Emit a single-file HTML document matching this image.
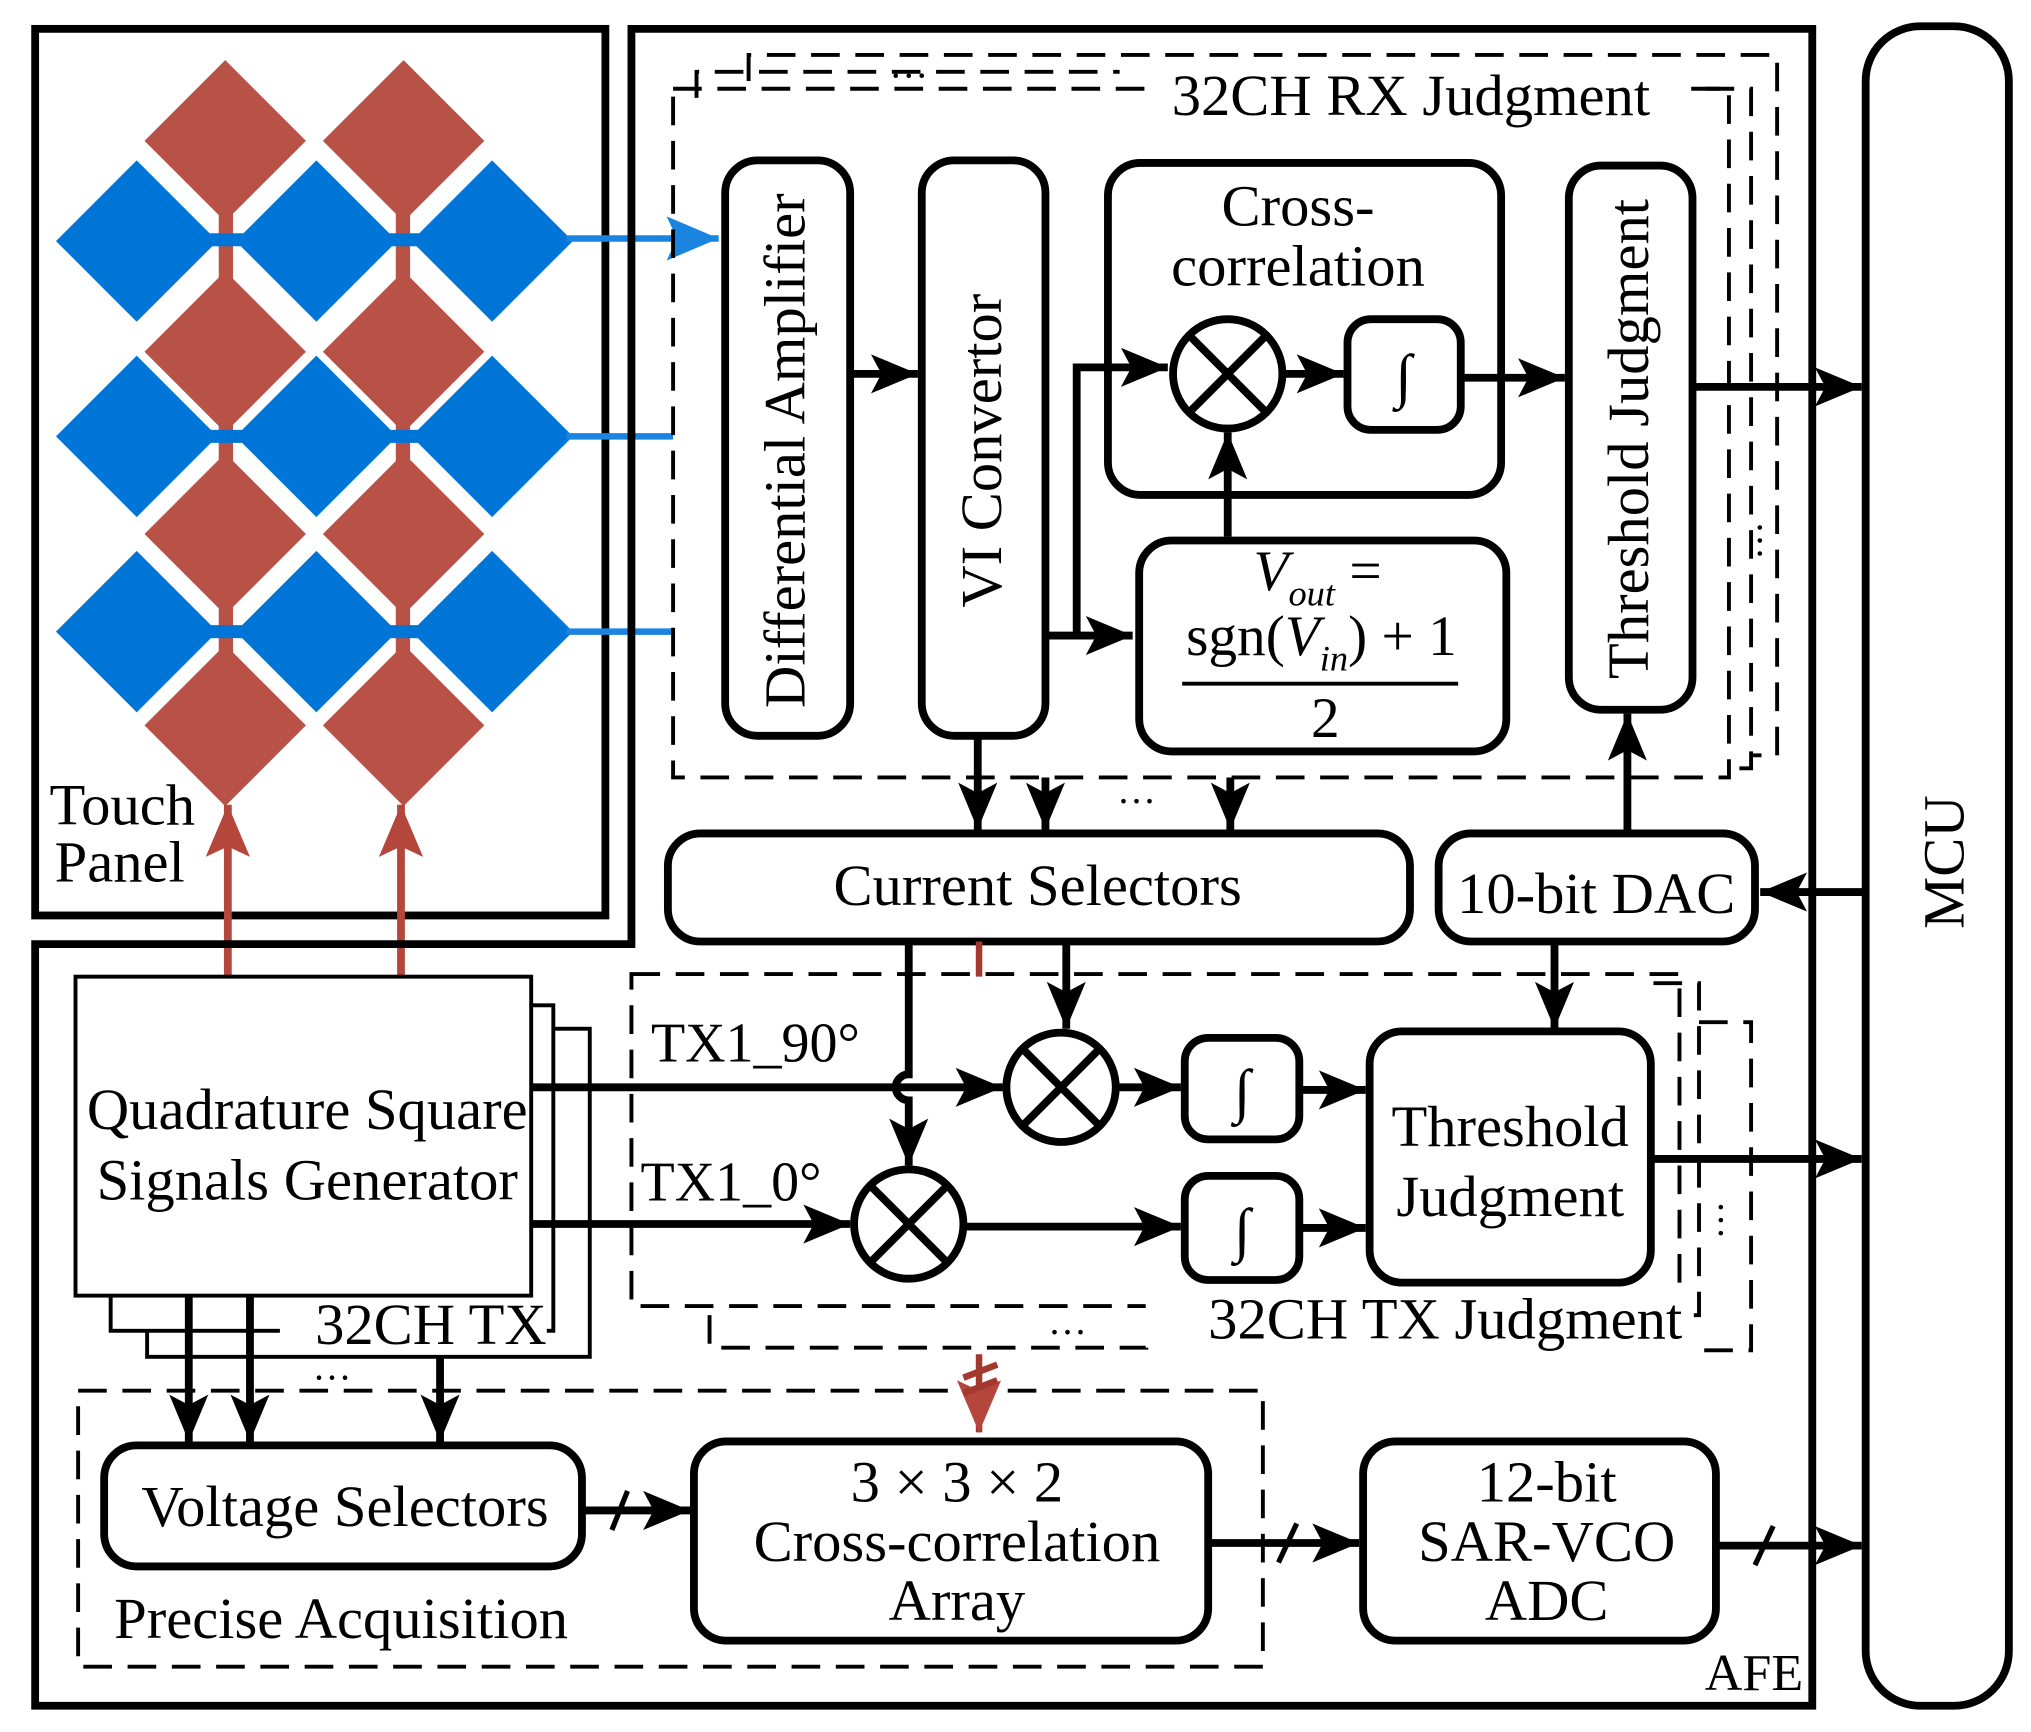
<!DOCTYPE html>
<html><head><meta charset="utf-8"><style>html,body{margin:0;padding:0;background:#fff}svg{display:block}text{font-family:"Liberation Serif",serif;fill:#000}</style></head><body>
<svg width="2031" height="1732" viewBox="0 0 1560 1330" xmlns="http://www.w3.org/2000/svg">
<defs>
<marker id="ak" markerWidth="36" markerHeight="30" refX="36" refY="15" orient="auto" markerUnits="userSpaceOnUse"><path d="M0,0 L36,15 L0,30 L8,15 z" fill="#000"/></marker>
<marker id="ab" markerWidth="40" markerHeight="34" refX="40" refY="17" orient="auto" markerUnits="userSpaceOnUse"><path d="M0,0 L40,17 L0,34 L8,17 z" fill="#1a84e0"/></marker>
<marker id="ar" markerWidth="40" markerHeight="34" refX="40" refY="17" orient="auto" markerUnits="userSpaceOnUse"><path d="M0,0 L40,17 L0,34 L8,17 z" fill="#b5463c"/></marker>
<g id="d"><path d="M0,-62 L62,0 L0,62 L-62,0z"/></g>
</defs>
<rect width="1560" height="1330" fill="#fff"/>
<rect x="27" y="22" width="438" height="681" fill="none" stroke="#000" stroke-width="6"/>
<g fill="#b85246">
<rect x="168" y="100" width="11" height="470"/><rect x="304" y="100" width="11" height="470"/>
<use href="#d" x="173" y="108"/><use href="#d" x="310" y="108"/>
<use href="#d" x="173" y="270"/><use href="#d" x="310" y="270"/>
<use href="#d" x="173" y="410"/><use href="#d" x="310" y="410"/>
<use href="#d" x="173" y="557"/><use href="#d" x="310" y="557"/>
</g>
<g fill="#0075d8">
<rect x="105" y="179" width="280" height="10"/><rect x="105" y="330" width="280" height="10"/><rect x="105" y="480" width="280" height="10"/>
<use href="#d" x="105" y="185"/><use href="#d" x="243" y="185"/><use href="#d" x="378" y="185"/>
<use href="#d" x="105" y="335"/><use href="#d" x="243" y="335"/><use href="#d" x="378" y="335"/>
<use href="#d" x="105" y="485"/><use href="#d" x="243" y="485"/><use href="#d" x="378" y="485"/>
</g>
<g stroke="#1a84e0" stroke-width="5" fill="none">
<line x1="435" y1="183" x2="552" y2="183" marker-end="url(#ab)"/>
<line x1="435" y1="335" x2="517" y2="335"/><line x1="435" y1="485" x2="517" y2="485"/>
</g>
<g stroke="#b5463c" stroke-width="6"><line x1="175" y1="750" x2="175" y2="618" marker-end="url(#ar)"/><line x1="308" y1="750" x2="308" y2="618" marker-end="url(#ar)"/></g>
<text x="38" y="633" font-size="45">Touch</text><text x="42" y="677" font-size="45">Panel</text>
<path d="M485,22 L1392,22 L1392,1310 L27,1310 L27,725 L485,725 Z" fill="none" stroke="#000" stroke-width="6"/>
<text x="1385" y="1298" font-size="40" text-anchor="end">AFE</text>
<rect x="1433" y="20" width="110" height="1290" rx="42" fill="none" stroke="#000" stroke-width="6"/>
<text transform="translate(1508,662) rotate(-90)" font-size="45" text-anchor="middle">MCU</text>
<g fill="none" stroke="#000" stroke-width="3" stroke-dasharray="22,12">
<path d="M575,62 L575,42 L1365,42 L1365,580 L1345,580"/>
<path d="M535,75 L535,55 L860,55"/><path d="M1310,68 L1345,68 L1345,590 L1328,590"/>
<rect x="517" y="68" width="811" height="529"/>
</g>
<text x="683" y="68" font-size="30">···</text>
<text x="1338" y="420" font-size="30" transform="rotate(90 1350 412)">···</text>
<rect x="880" y="52" width="410" height="40" fill="#fff"/>
<text x="900" y="88" font-size="45">32CH RX Judgment</text>
<g fill="none" stroke="#000" stroke-width="6">
<rect x="557" y="123" width="96" height="442" rx="25"/>
<rect x="708" y="123" width="95" height="442" rx="25"/>
<rect x="851" y="125" width="302" height="255" rx="25"/>
<rect x="1205" y="127" width="95" height="418" rx="25"/>
<rect x="875" y="415" width="282" height="162" rx="25"/>
<rect x="1035" y="245" width="87" height="85" rx="18"/>
<circle cx="943" cy="287" r="42"/>
<path d="M913,257 L973,317 M973,257 L913,317"/>
<rect x="513" y="640" width="570" height="83" rx="25"/>
<rect x="1105" y="640" width="243" height="83" rx="25"/>
</g>
<text transform="translate(618,346) rotate(-90)" font-size="45" text-anchor="middle">Differential Amplifier</text>
<text transform="translate(769,346) rotate(-90)" font-size="45" text-anchor="middle">VI Convertor</text>
<text transform="translate(1266,337) rotate(-90)" font-size="45" text-anchor="middle">Threshold Judgment</text>
<text x="997" y="173" font-size="45" text-anchor="middle">Cross-</text>
<text x="997" y="219" font-size="45" text-anchor="middle">correlation</text>
<text x="1078" y="304" font-size="46" text-anchor="middle" font-style="italic">∫</text>
<text x="1012" y="453" font-size="44" text-anchor="middle"><tspan font-style="italic">V</tspan><tspan font-size="28" dy="12" font-style="italic">out</tspan><tspan dy="-12"> =</tspan></text>
<text x="1015" y="503" font-size="44" text-anchor="middle">sgn(<tspan font-style="italic">V</tspan><tspan font-size="28" dy="12" font-style="italic">in</tspan><tspan dy="-12">) + 1</tspan></text>
<line x1="908" y1="525" x2="1120" y2="525" stroke="#000" stroke-width="3"/>
<text x="1018" y="566" font-size="44" text-anchor="middle">2</text>
<text x="797" y="695" font-size="45" text-anchor="middle">Current Selectors</text>
<text x="1226" y="701" font-size="45" text-anchor="middle">10-bit DAC</text>
<g stroke="#000" stroke-width="6" fill="none">
<line x1="653" y1="287" x2="705" y2="287" marker-end="url(#ak)"/>
<path d="M803,488 L870,488" marker-end="url(#ak)"/>
<path d="M827,488 L827,282 L897,282" marker-end="url(#ak)"/>
<line x1="985" y1="287" x2="1032" y2="287" marker-end="url(#ak)"/>
<line x1="1122" y1="290" x2="1202" y2="290" marker-end="url(#ak)"/>
<line x1="943" y1="412" x2="943" y2="332" marker-end="url(#ak)"/>
<line x1="1300" y1="297" x2="1430" y2="297" marker-end="url(#ak)"/>
<line x1="751" y1="565" x2="751" y2="637" marker-end="url(#ak)"/>
<line x1="803" y1="597" x2="803" y2="637" marker-end="url(#ak)"/>
<line x1="945" y1="597" x2="945" y2="637" marker-end="url(#ak)"/>
<line x1="1250" y1="637" x2="1250" y2="548" marker-end="url(#ak)"/>
<line x1="1433" y1="685" x2="1352" y2="685" marker-end="url(#ak)"/>
<line x1="1194" y1="723" x2="1194" y2="790" marker-end="url(#ak)"/>
<line x1="819" y1="723" x2="819" y2="790" marker-end="url(#ak)"/>
<path d="M698,723 L698,825 A10,10 0 0 0 698,845 L698,895" marker-end="url(#ak)"/>
</g>
<text x="858" y="625" font-size="30">···</text>
<line x1="752" y1="723" x2="752" y2="750" stroke="#a3382e" stroke-width="5"/>
<g fill="none" stroke="#000" stroke-width="3" stroke-dasharray="22,12">
<rect x="485" y="748" width="805" height="255"/>
<path d="M1270,755 L1305,755 L1305,1010 L1290,1010"/>
<path d="M1305,785 L1345,785 L1345,1037 L1300,1037"/>
<path d="M545,1010 L545,1035 L890,1035"/>
</g>
<rect x="880" y="990" width="420" height="45" fill="#fff"/>
<text x="928" y="1028" font-size="45">32CH TX Judgment</text>
<text x="805" y="1033" font-size="30">···</text>
<text x="1310" y="940" font-size="30" transform="rotate(90 1320 932)">···</text>
<g fill="#fff" stroke="#000" stroke-width="3">
<rect x="113" y="790" width="340" height="252"/>
<rect x="85" y="772" width="340" height="250"/>
<rect x="58" y="750" width="350" height="245"/>
</g>
<text x="236" y="867" font-size="45" text-anchor="middle">Quadrature Square</text>
<text x="236" y="921" font-size="45" text-anchor="middle">Signals Generator</text>
<rect x="215" y="997" width="205" height="42" fill="#fff"/>
<text x="242" y="1032" font-size="45">32CH TX</text>
<text x="500" y="815" font-size="43">TX1_90°</text>
<text x="492" y="922" font-size="43">TX1_0°</text>
<g fill="none" stroke="#000" stroke-width="6">
<circle cx="815" cy="835" r="42"/><path d="M785,805 L845,865 M845,805 L785,865"/>
<circle cx="698" cy="940" r="42"/><path d="M668,910 L728,970 M728,910 L668,970"/>
<rect x="910" y="797" width="88" height="78" rx="18"/>
<rect x="910" y="903" width="88" height="80" rx="18"/>
<rect x="1052" y="792" width="216" height="193" rx="25"/>
<line x1="408" y1="835" x2="770" y2="835" marker-end="url(#ak)"/>
<line x1="408" y1="940" x2="653" y2="940" marker-end="url(#ak)"/>
<line x1="858" y1="835" x2="907" y2="835" marker-end="url(#ak)"/>
<line x1="740" y1="942" x2="907" y2="942" marker-end="url(#ak)"/>
<line x1="998" y1="837" x2="1049" y2="837" marker-end="url(#ak)"/>
<line x1="998" y1="943" x2="1049" y2="943" marker-end="url(#ak)"/>
<line x1="1268" y1="890" x2="1430" y2="890" marker-end="url(#ak)"/>
</g>
<text x="954" y="853" font-size="46" text-anchor="middle" font-style="italic">∫</text>
<text x="954" y="960" font-size="46" text-anchor="middle" font-style="italic">∫</text>
<text x="1160" y="880" font-size="45" text-anchor="middle">Threshold</text>
<text x="1160" y="934" font-size="45" text-anchor="middle">Judgment</text>
<rect x="60" y="1068" width="910" height="212" fill="none" stroke="#000" stroke-width="3" stroke-dasharray="22,12"/>
<g fill="none" stroke="#000" stroke-width="6">
<rect x="80" y="1110" width="367" height="93" rx="25"/>
<rect x="533" y="1107" width="395" height="153" rx="25"/>
<rect x="1047" y="1107" width="271" height="153" rx="25"/>
<line x1="145" y1="995" x2="145" y2="1107" marker-end="url(#ak)"/>
<line x1="192" y1="995" x2="192" y2="1107" marker-end="url(#ak)"/>
<line x1="338" y1="1042" x2="338" y2="1107" marker-end="url(#ak)"/>
<line x1="447" y1="1160" x2="530" y2="1160" marker-end="url(#ak)"/>
<line x1="928" y1="1185" x2="1044" y2="1185" marker-end="url(#ak)"/>
<line x1="1318" y1="1187" x2="1430" y2="1187" marker-end="url(#ak)"/>
<path d="M470,1175 L482,1145 M982,1200 L996,1170 M1348,1202 L1362,1172" stroke-width="4"/>
</g>
<text x="240" y="1068" font-size="30">···</text>
<g stroke="#a3382e" stroke-width="5"><line x1="752" y1="1040" x2="752" y2="1100" marker-end="url(#ar)"/><path d="M740,1058 L766,1048 M740,1070 L766,1060"/></g>
<text x="265" y="1172" font-size="45" text-anchor="middle">Voltage Selectors</text>
<text x="262" y="1258" font-size="45" text-anchor="middle">Precise Acquisition</text>
<text x="735" y="1153" font-size="45" text-anchor="middle">3 × 3 × 2</text>
<text x="735" y="1199" font-size="45" text-anchor="middle">Cross-correlation</text>
<text x="735" y="1244" font-size="45" text-anchor="middle">Array</text>
<text x="1188" y="1153" font-size="45" text-anchor="middle">12-bit</text>
<text x="1188" y="1199" font-size="45" text-anchor="middle">SAR-VCO</text>
<text x="1188" y="1244" font-size="45" text-anchor="middle">ADC</text>
</svg>
</body></html>
